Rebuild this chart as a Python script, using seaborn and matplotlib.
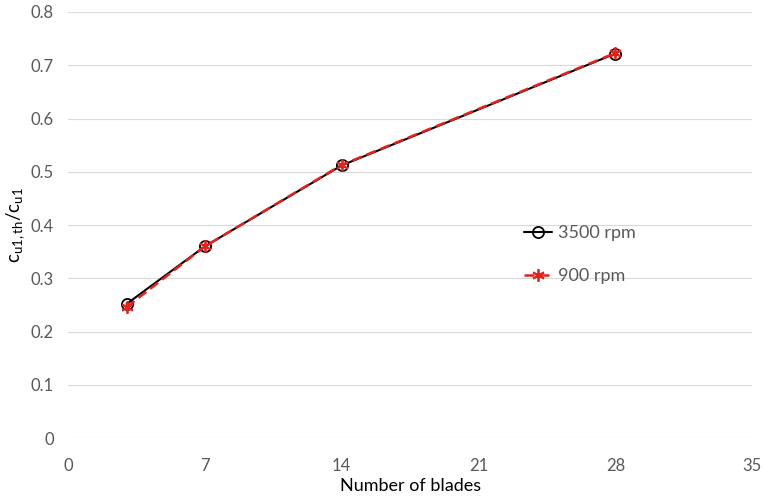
import matplotlib
matplotlib.use("Agg")
import matplotlib.pyplot as plt
import seaborn as sns
import pandas as pd

blades = [3, 7, 14, 28]
ratio_3500 = [0.252, 0.360, 0.512, 0.722]
ratio_900 = [0.246, 0.360, 0.513, 0.723]
x_ticks = [0, 7, 14, 21, 28, 35]
y_ticks = [0, 0.1, 0.2, 0.3, 0.4, 0.5, 0.6, 0.7, 0.8]
y_labels = ["0", "0.1", "0.2", "0.3", "0.4", "0.5", "0.6", "0.7", "0.8"]

sns.set_theme(style="white")
plt.rcParams['font.family'] = ['Lato', 'DejaVu Sans']
txt = "#595959"

fig = plt.figure(figsize=(7.63, 4.98), dpi=100)
ax = fig.add_axes([0.089, 0.120, 0.897, 0.856])

df1 = pd.DataFrame({"x": blades, "y": ratio_3500})
df2 = pd.DataFrame({"x": blades, "y": ratio_900})
sns.lineplot(data=df1, x="x", y="y", ax=ax, color="black", linewidth=1.5,
             marker="o", markersize=8, markerfacecolor="none",
             markeredgecolor="black", markeredgewidth=1.3, label="3500 rpm")
sns.lineplot(data=df2, x="x", y="y", ax=ax, color="#e8201a", linewidth=1.8,
             linestyle=(0, (4, 2)), marker=(6, 2, 0), markersize=9,
             markeredgecolor="#e8201a", markeredgewidth=1.3, label="900 rpm")

ax.set_xlim(0, 35)
ax.set_ylim(0, 0.8)
ax.set_xticks(x_ticks)
ax.set_xticklabels([str(t) for t in x_ticks])
ax.set_yticks(y_ticks)
ax.set_yticklabels(y_labels)
ax.yaxis.grid(True, color="#d9d9d9", linewidth=0.8)
ax.xaxis.grid(False)
for s in ax.spines.values():
    s.set_visible(False)
ax.tick_params(axis="y", colors=txt, labelsize=12, length=0, pad=10)
ax.tick_params(axis="x", colors=txt, labelsize=12, length=0, pad=14)
ax.set_xlabel("Number of blades", fontsize=13, color="black", labelpad=3)
ax.set_ylabel(r"c$_{\mathregular{u1,th}}$/c$_{\mathregular{u1}}$", fontsize=13.5, color="black", labelpad=3)

leg = ax.legend(loc="center left", bbox_to_anchor=(0.642, 0.43), frameon=False,
                fontsize=13, labelspacing=1.5, handlelength=1.6, handletextpad=0.3)
for t in leg.get_texts():
    t.set_color(txt)

fig.savefig("out.png", dpi=100)
